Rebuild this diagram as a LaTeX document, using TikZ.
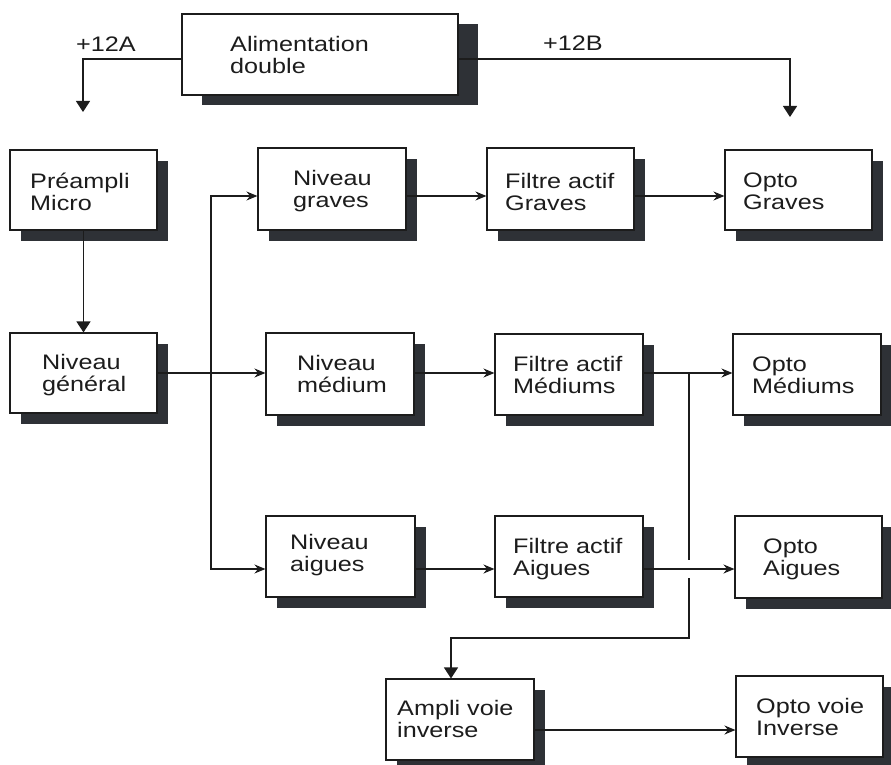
\documentclass[tikz,border=0pt]{standalone}
\usepackage{fontspec}
\setmainfont{Liberation Sans}[FakeStretch=1.2]
\usetikzlibrary{arrows.meta,fit,calc}
\definecolor{shd}{HTML}{2E3136}
\definecolor{ink}{HTML}{1C1C1C}
\newcommand\sdx{11}
\newcommand\sdy{11}
\newcommand\blk[8]{%
  \fill[shd] ({#2+\sdx},{#3+\sdy}) rectangle ({#4+\sdx},{#5+\sdy});
  \node[boxst, fit={(#2,#3) (#4,#5)}] (#1) {};
  \node[lbl] (#1t) at (#6,{#7+22}) {#8};
}
\begin{document}
\begin{tikzpicture}[x=1pt,y=-1pt,
  boxst/.style={draw=ink, line width=1.1pt, fill=white, inner sep=0pt},
  lbl/.style={anchor=base west, align=left, inner sep=0pt, font=\fontsize{21}{22}\selectfont, text=ink},
  conn/.style={draw=ink, line width=1.2pt},
  arr/.style={-{Stealth[length=11pt,width=9pt]}},
  darr/.style={-{Triangle[length=11pt,width=14pt]}}]
\useasboundingbox (0,0) rectangle (891,765);
\clip (0,0) rectangle (891,765);
\fill[white] (0,0) rectangle (891,765);

\renewcommand\sdx{20}\renewcommand\sdy{10}
\blk{ali}{182}{14}{458}{95}{230}{52}{Alimentation\\double}
\renewcommand\sdx{11}\renewcommand\sdy{11}
\blk{pre}{10}{150}{157}{230}{30}{188}{Préampli\\Micro}
\blk{gen}{10}{333}{157}{413}{42}{369}{Niveau\\général}
\blk{nvg}{258}{148}{406}{230}{293}{185}{Niveau\\graves}
\blk{nvm}{266}{333}{414}{415}{297}{370}{Niveau\\médium}
\blk{fag}{487}{148}{634}{230}{505}{188}{Filtre actif\\Graves}
\blk{og}{725}{150}{872}{230}{743}{187}{Opto\\Graves}
\blk{fam}{495}{334}{643}{415}{513}{371}{Filtre actif\\Médiums}
\blk{om}{733}{334}{881}{415}{752}{371}{Opto\\Médiums}
\blk{nva}{266}{516}{415}{597}{290}{549}{Niveau\\aigues}
\blk{faa}{495}{516}{643}{597}{513}{553}{Filtre actif\\Aigues}
\blk{oa}{735}{516}{882}{598}{763}{553}{Opto\\Aigues}
\blk{amp}{386}{679}{534}{760}{397}{715}{Ampli voie\\inverse}
\blk{ovi}{736}{676}{883}{757}{756}{713}{Opto voie\\Inverse}

\node[lbl] (la) at (76,52) {+12A};
\node[lbl] (lb) at (543,51) {+12B};

\coordinate (a12) at (83,112);
\coordinate (b12) at (790,117);
\coordinate (r1) at (0,196);
\coordinate (r2) at (0,373);
\coordinate (r3) at (0,569);
\coordinate (r4) at (0,730);
\coordinate (r5) at (0,638);
\coordinate (sp) at (211,0);
\coordinate (jx) at (689,0);
\coordinate (ain) at (451,0);
\coordinate (g1) at (0,560);
\coordinate (g2) at (0,578);

\draw[conn,darr] ([yshift=-4.5pt]ali.west) -| (a12);
\draw[conn,darr] ([yshift=-4.5pt]ali.east) -| (b12);
\draw[conn,darr] (pre.south) -- (gen.north);

\draw[conn,arr] (gen.east |- r2) -- (nvm.west |- r2);
\draw[conn,arr] (sp |- r2) |- (nvg.west |- r1);
\draw[conn,arr] (sp |- r2) |- (nva.west |- r3);

\draw[conn,arr] (nvg.east |- r1) -- (fag.west |- r1);
\draw[conn,arr] (fag.east |- r1) -- (og.west |- r1);
\draw[conn,arr] (nvm.east |- r2) -- (fam.west |- r2);
\draw[conn,arr] (fam.east |- r2) -- (om.west |- r2);
\draw[conn,arr] (nva.east |- r3) -- (faa.west |- r3);
\draw[conn,arr] (faa.east |- r3) -- (oa.west |- r3);
\draw[conn,arr] (amp.east |- r4) -- (ovi.west |- r4);

\draw[conn,darr] (jx |- r2) -- (jx |- g1) (jx |- g2) -- (jx |- r5) -| (ain |- amp.north);
\end{tikzpicture}
\end{document}
